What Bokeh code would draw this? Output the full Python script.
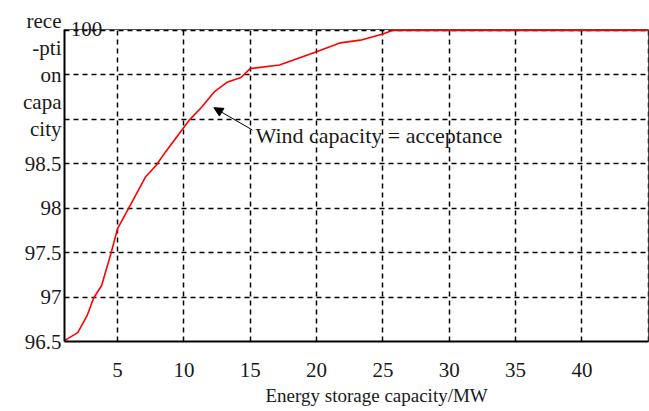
from bokeh.plotting import figure
from bokeh.models import Range1d, FixedTicker, Label, Arrow, NormalHead, LinearAxis, Title
from bokeh.embed import file_html
from bokeh.resources import INLINE

# Data
storage_mw = [1.0, 2.0, 2.7, 3.2, 3.8, 4.5, 5.0, 5.7, 7.1, 7.9, 8.6, 10.4, 11.3, 12.3,
              13.3, 14.3, 15.0, 17.2, 20.0, 21.8, 23.3, 25.0, 25.7, 30, 35, 40, 45]
acceptance = [96.51, 96.60, 96.79, 96.99, 97.13, 97.49, 97.77, 97.96, 98.35, 98.48, 98.63,
              98.99, 99.13, 99.31, 99.42, 99.47, 99.57, 99.61, 99.76, 99.86, 99.89, 99.96,
              100, 100, 100, 100, 100]
x_ticks = [5, 10, 15, 20, 25, 30, 35, 40, 45]
y_ticks = [96.5, 97, 97.5, 98, 98.5, 99, 99.5, 100]
y_title_lines = ["rece", "-pti", "on", "capa", "city"]
annotation_text = "Wind capacity = acceptance"
x_title = "Energy storage capacity/MW"

FONT = "Liberation Serif"
TXT = "#1a1a1a"

p = figure(width=649, height=411, output_backend="svg", toolbar_location=None,
           x_range=Range1d(1, 45.02), y_range=Range1d(96.5, 100.01),
           min_border_left=64, min_border_right=1, min_border_top=29, min_border_bottom=70)
p.background_fill_color = "white"
p.border_fill_color = "white"
p.outline_line_color = "#555555"
p.outline_line_width = 1

p.xaxis.ticker = FixedTicker(ticks=x_ticks)
p.yaxis.ticker = FixedTicker(ticks=y_ticks)
p.xaxis.major_label_overrides = {45: ""}
# the wrapped y title sits over the 99.5 tick label; 100 and 99 labels are hidden
p.yaxis.major_label_overrides = {100: "", 99.5: "\n".join(y_title_lines), 99: ""}
p.yaxis.major_label_text_line_height = 1.12
for ax in (p.xaxis[0], p.yaxis[0]):
    ax.axis_line_color = "black"
    ax.axis_line_width = 2
    ax.major_tick_in = 0
    ax.major_tick_out = 0
    ax.minor_tick_in = 0
    ax.minor_tick_out = 0
    ax.major_label_text_font = FONT
    ax.major_label_text_font_size = "21px"
    ax.major_label_text_color = TXT
p.xaxis.major_label_standoff = 21
p.yaxis.major_label_standoff = 3

# "100" label that the reference prints just inside the top-left corner
top_axis = LinearAxis(ticker=FixedTicker(ticks=[2.66]), major_label_overrides={2.66: "100"},
                      axis_line_color=None, major_tick_in=0, major_tick_out=0,
                      minor_tick_in=0, minor_tick_out=0, major_label_standoff=-6,
                      major_label_text_font=FONT, major_label_text_font_size="21px",
                      major_label_text_color=TXT)
p.add_layout(top_axis, "above")

p.add_layout(Title(text=x_title, align="left", offset=201, standoff=6,
                   text_font=FONT, text_font_size="19px", text_font_style="normal",
                   text_color=TXT), "below")

for g in (p.xgrid[0], p.ygrid[0]):
    g.grid_line_color = "black"
    g.grid_line_width = 1.5
    g.grid_line_dash = "5 4"
p.xgrid.ticker = FixedTicker(ticks=x_ticks)
p.ygrid.ticker = FixedTicker(ticks=y_ticks)

p.line(storage_mw, acceptance, line_color="red", line_width=1.6)

p.add_layout(Arrow(end=NormalHead(size=9, fill_color="black", line_color="black"),
                   x_start=15.16, y_start=98.88, x_end=12.26, y_end=99.13,
                   line_color="black", line_width=1))
p.add_layout(Label(x=15.4, y=98.815, text=annotation_text, text_font=FONT,
                   text_font_size="22px", text_color=TXT,
                   text_baseline="middle", text_align="left"))

open("out.html", "w").write(file_html(p, INLINE))
